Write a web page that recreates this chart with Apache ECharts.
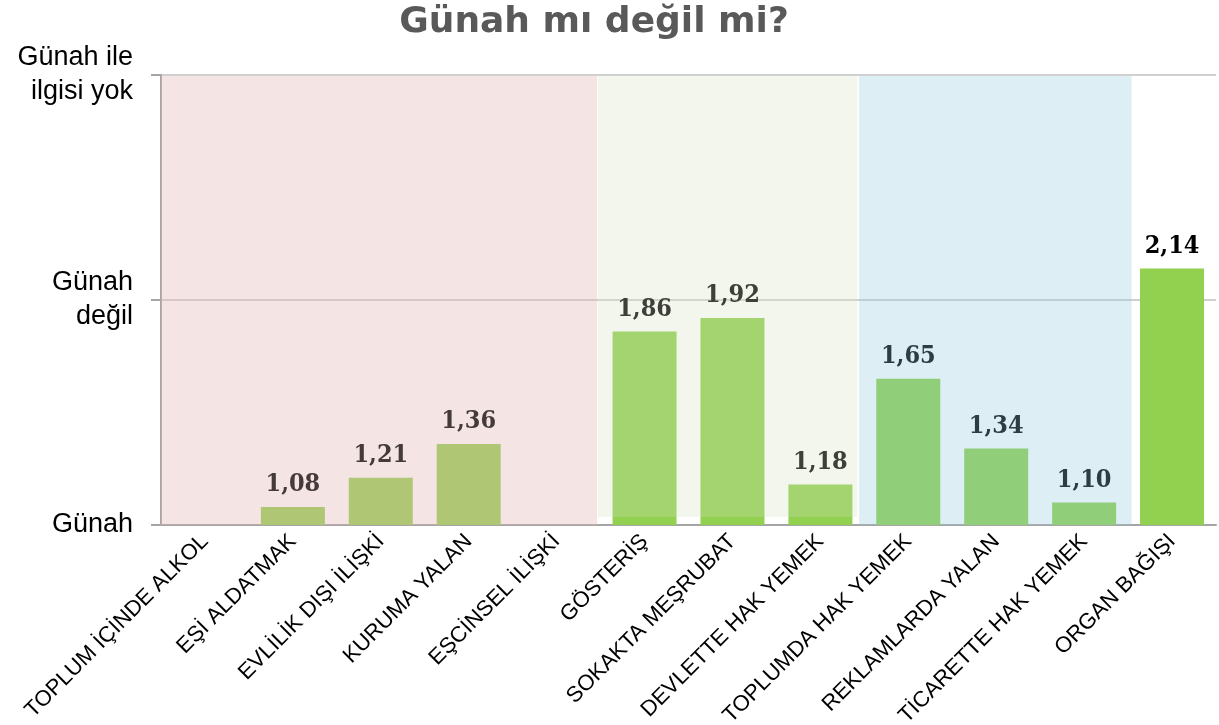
<!DOCTYPE html>
<html>
<head>
<meta charset="utf-8">
<script src="https://cdn.jsdelivr.net/npm/echarts@6/dist/echarts.min.js"></script>
<style>
  html, body { margin: 0; padding: 0; background: #fff; }
  #main { width: 1219px; height: 725px; }
</style>
</head>
<body>
<div id="main"></div>
<script>
// kategoriler ve ortalama puanlar (1 = günah, 2 = günah değil, 3 = günah ile ilgisi yok)
var categories = ['TOPLUM İÇİNDE ALKOL', 'EŞİ ALDATMAK', 'EVLİLİK DIŞI İLİŞKİ', 'KURUMA YALAN',
  'EŞCİNSEL İLİŞKİ', 'GÖSTERİŞ', 'SOKAKTA MEŞRUBAT', 'DEVLETTE HAK YEMEK',
  'TOPLUMDA HAK YEMEK', 'REKLAMLARDA YALAN', 'TİCARETTE HAK YEMEK', 'ORGAN BAĞIŞI'];
var scores = [null, 1.08, 1.21, 1.36, null, 1.86, 1.92, 1.18, 1.65, 1.34, 1.10, 2.14];
var yTickLabels = {1: 'Günah', 2: 'Günah\ndeğil', 3: 'Günah ile\nilgisi yok'};
// grup: 0 pembe, 1 yeşil, 2 mavi, 3 yok
var groups = [0, 0, 0, 0, 0, 1, 1, 1, 2, 2, 2, 3];
var labelColors = ['#453a3a', '#3d3f38', '#2c3d44', '#000000'];

var chart = echarts.init(document.getElementById('main'));

var labelData = scores.map(function (v, i) {
  return { value: v, label: { color: labelColors[groups[i]] } };
});

chart.setOption({
  animation: false,
  title: {
    text: 'Günah mı değil mi?',
    left: 589,
    top: 0,
    textAlign: 'center',
    textStyle: { fontFamily: 'DejaVu Sans', fontWeight: 'bold', fontSize: 36, color: '#595959' }
  },
  grid: { left: 161, right: 3, top: 75, bottom: 200, outerBoundsMode: 'none', containLabel: false },
  xAxis: [{
    type: 'category',
    data: categories,
    axisLine: { lineStyle: { color: '#a6a6a6', width: 2 } },
    axisTick: { alignWithLabel: false, length: 7, lineStyle: { color: '#a6a6a6', width: 2 } },
    axisLabel: { rotate: 45, margin: 13, fontSize: 22, color: '#000', fontFamily: 'Liberation Sans', interval: 0 }
  }, {
    type: 'value', min: 0, max: 12, show: false
  }],
  yAxis: {
    type: 'value',
    min: 1,
    max: 3,
    interval: 1,
    axisLine: { show: true, lineStyle: { color: '#a6a6a6', width: 2 } },
    axisTick: { show: true, length: 10, lineStyle: { color: '#a6a6a6', width: 2 } },
    splitLine: { lineStyle: { color: '#c0c0c0', width: 1.5 } },
    axisLabel: {
      margin: 28,
      fontSize: 27,
      lineHeight: 34,
      color: '#000',
      align: 'right',
      fontFamily: 'Liberation Sans',
      formatter: function (v) { return yTickLabels[v] || ''; }
    }
  },
  series: [{
    type: 'bar',
    data: scores,
    barWidth: 64,
    z: 2,
    itemStyle: { color: '#92d050' }
  }, {
    type: 'line',
    xAxisIndex: 1,
    data: [],
    z: 5,
    silent: true,
    markArea: {
      silent: true,
      z: 5,
      data: [
        [{ coord: [0, 2.996], itemStyle: { color: 'rgba(227,180,180,0.36)' } }, { coord: [4.96, 0.978] }],
        [{ coord: [4.97, 2.996], itemStyle: { color: 'rgba(210,224,190,0.29)' } }, { coord: [7.92, 1.036] }],
        [{ coord: [7.94, 2.996], itemStyle: { color: 'rgba(142,202,218,0.30)' } }, { coord: [11.04, 1] }]
      ]
    }
  }, {
    type: 'bar',
    data: labelData,
    barWidth: 64,
    barGap: '-100%',
    z: 10,
    itemStyle: { color: 'rgba(0,0,0,0)' },
    label: {
      show: true,
      position: 'top',
      distance: 10,
      fontFamily: 'DejaVu Serif Condensed',
      fontWeight: 'bold',
      fontSize: 25,
      formatter: function (p) { return p.value.toFixed(2).replace('.', ','); }
    }
  }]
});
</script>
</body>
</html>
